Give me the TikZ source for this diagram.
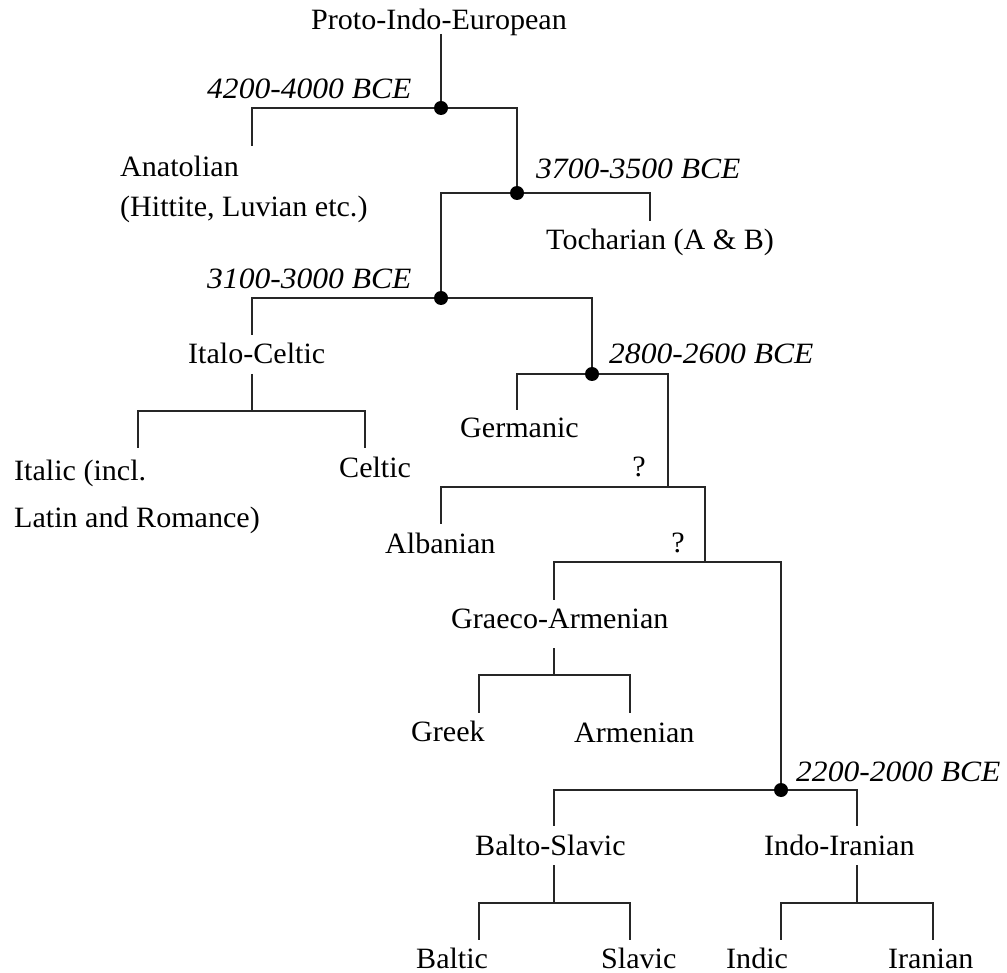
\documentclass[tikz,border=0pt]{standalone}
\usepackage{fontspec}
\setmainfont{Liberation Serif}[FakeStretch=1.02]
\newfontfamily\datefont{Liberation Serif}[FakeStretch=1.07]
\begin{document}
\begin{tikzpicture}[x=1pt,y=-1pt,
  lang/.style={inner sep=0pt,font=\fontsize{29.5}{34}\selectfont},
  date/.style={inner sep=0pt,font=\fontsize{29.5}{34}\selectfont\datefont\itshape},
  tree/.style={line width=1.2pt,black!85},
  dot/.style={circle,fill=black,inner sep=0pt,minimum size=14pt}]
\useasboundingbox (0,0) rectangle (1007,973);
% texts
\node[lang,anchor=base] (pie) at (439,30) {Proto-Indo-European};
\node[lang,anchor=base west] (anat) at (120,177) {Anatolian};
\node[lang,anchor=base west] (hitt) at (120,217) {(Hittite, Luvian etc.)};
\node[lang,anchor=base west] (toch) at (546,250) {Tocharian (A \& B)};
\node[lang,anchor=base west] (itce) at (188,364) {Italo-Celtic};
\node[lang,anchor=base west] (ital) at (14,480) {Italic (incl.};
\node[lang,anchor=base west] (latr) at (14,527) {Latin and Romance)};
\node[lang,anchor=base west] (celt) at (339,477) {Celtic};
\node[lang,anchor=base west] (germ) at (460,438) {Germanic};
\node[lang,anchor=base] (q1) at (639,476) {?};
\node[lang,anchor=base] (q2) at (678,552) {?};
\node[lang,anchor=base west] (alba) at (385,553) {Albanian};
\node[lang,anchor=base west] (grar) at (451,628) {Graeco-Armenian};
\node[lang,anchor=base west] (gree) at (411,741) {Greek};
\node[lang,anchor=base west] (arme) at (574,742) {Armenian};
\node[lang,anchor=base west] (bsl) at (475,855) {Balto-Slavic};
\node[lang,anchor=base west] (iir) at (764,855) {Indo-Iranian};
\node[lang,anchor=base west] (balt) at (416,968) {Baltic};
\node[lang,anchor=base west] (slav) at (601,968) {Slavic};
\node[lang,anchor=base west] (indi) at (726,968) {Indic};
\node[lang,anchor=base west] (iran) at (888,968) {Iranian};
\node[date,anchor=base west] (d1) at (207,99) {4200-4000 BCE};
\node[date,anchor=base west] (d2) at (536,179) {3700-3500 BCE};
\node[date,anchor=base west] (d3) at (207,289) {3100-3000 BCE};
\node[date,anchor=base west] (d4) at (609,364) {2800-2600 BCE};
\node[date,anchor=base west] (d5) at (796,781) {2200-2000 BCE};
% junction points
\coordinate (pieb) at (441,34);
\coordinate (j1) at (441,108);
\coordinate (j2) at (517,193);
\coordinate (j3) at (441,298);
\coordinate (j4) at (592,374);
\coordinate (j5) at (781,790);
\coordinate (anatt) at (252,146);
\coordinate (tocht) at (650,221);
\coordinate (itcet) at (252,335);
\coordinate (itceb) at (252,374);
\coordinate (italt) at (138,448);
\coordinate (celtt) at (365,448);
\coordinate (germt) at (517,410);
\coordinate (k1) at (668,487);
\coordinate (albat) at (441,524);
\coordinate (k2) at (705,562);
\coordinate (grart) at (554,600);
\coordinate (grarb) at (554,648);
\coordinate (greet) at (479,713);
\coordinate (armet) at (630,713);
\coordinate (bslt) at (554,826);
\coordinate (iirt) at (857,826);
\coordinate (bslb) at (554,865);
\coordinate (iirb) at (857,865);
\coordinate (baltt) at (479,940);
\coordinate (slavt) at (630,940);
\coordinate (indit) at (781,940);
\coordinate (irant) at (933,940);
% connectors
\draw[tree] (pieb) -- (j1);
\draw[tree] (j1) -| (anatt);
\draw[tree] (j1) -| (j2);
\draw[tree] (j2) -| (tocht);
\draw[tree] (j2) -| (j3);
\draw[tree] (j3) -| (itcet);
\draw[tree] (j3) -| (j4);
\draw[tree] (itceb) -- ++(0,37) -| (italt);
\draw[tree] (itceb) ++(0,37) -| (celtt);
\draw[tree] (j4) -| (germt);
\draw[tree] (j4) -| (k1);
\draw[tree] (k1) -| (albat);
\draw[tree] (k1) -| (k2);
\draw[tree] (k2) -| (grart);
\draw[tree] (k2) -| (j5);
\draw[tree] (grarb) -- ++(0,27) -| (greet);
\draw[tree] (grarb) ++(0,27) -| (armet);
\draw[tree] (j5) -| (bslt);
\draw[tree] (j5) -| (iirt);
\draw[tree] (bslb) -- ++(0,38) -| (baltt);
\draw[tree] (bslb) ++(0,38) -| (slavt);
\draw[tree] (iirb) -- ++(0,38) -| (indit);
\draw[tree] (iirb) ++(0,38) -| (irant);
% dots
\foreach \j in {j1,j2,j3,j4,j5} \node[dot] at (\j) {};
\end{tikzpicture}
\end{document}
